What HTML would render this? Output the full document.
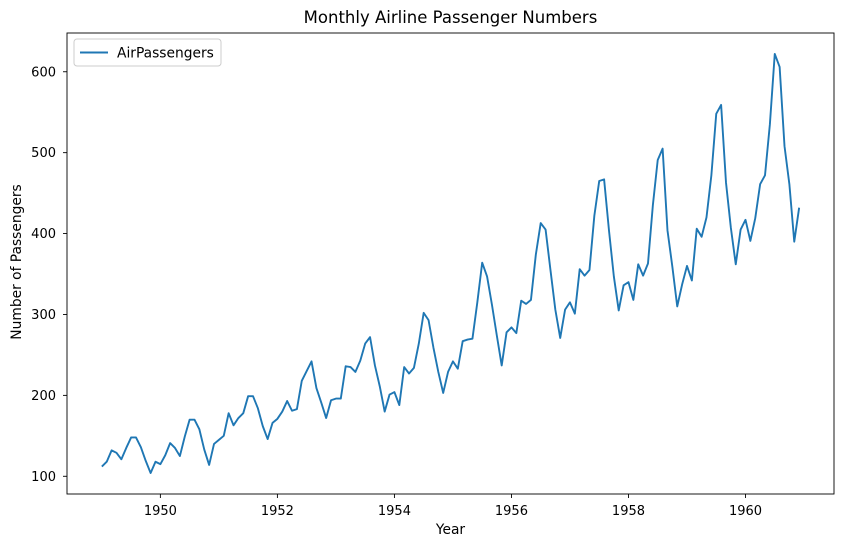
<!DOCTYPE html>
<html><head><meta charset="utf-8">
<style>
body{margin:0;background:#fff;}
svg text{font-family:"DejaVu Sans","Liberation Sans",sans-serif;fill:#000;}
</style></head>
<body>
<svg id="chart" width="850" height="547" xmlns="http://www.w3.org/2000/svg">
<rect width="850" height="547" fill="#fff"/>
<text x="450.5" y="23" font-size="16.5" text-anchor="middle">Monthly Airline Passenger Numbers</text>
<g id="axes"></g>
<text x="450.5" y="534" font-size="13.8" text-anchor="middle">Year</text>
<text transform="translate(21,262) rotate(-90)" font-size="13.8" text-anchor="middle">Number of Passengers</text>
<g>
<rect x="74" y="39" width="147" height="27" fill="#fff" stroke="#ccc" rx="3"/>
<line x1="80" y1="52.5" x2="108" y2="52.5" stroke="#1f77b4" stroke-width="2"/>
<text x="117" y="57.5" font-size="13.8">AirPassengers</text>
</g>
</svg>
<script>
const startYear = 1949;
const passengers = [
112,118,132,129,121,135,148,148,136,119,104,118,
115,126,141,135,125,149,170,170,158,133,114,140,
145,150,178,163,172,178,199,199,184,162,146,166,
171,180,193,181,183,218,230,242,209,191,172,194,
196,196,236,235,229,243,264,272,237,211,180,201,
204,188,235,227,234,264,302,293,259,229,203,229,
242,233,267,269,270,315,364,347,312,274,237,278,
284,277,317,313,318,374,413,405,355,306,271,306,
315,301,356,348,355,422,465,467,404,347,305,336,
340,318,362,348,363,435,491,505,404,359,310,337,
360,342,406,396,420,472,548,559,463,407,362,405,
417,391,419,461,472,535,622,606,508,461,390,432];
const xTicks = [1950,1952,1954,1956,1958,1960];
const yTicks = [100,200,300,400,500,600];

const L=67,R=834,T=33,B=494;
const ns="http://www.w3.org/2000/svg";
const times=passengers.map((v,i)=>startYear+i/12);
const tmin=Math.min(...times),tmax=Math.max(...times);
const vmin=Math.min(...passengers),vmax=Math.max(...passengers);
const x0=tmin-(tmax-tmin)*0.05,x1=tmax+(tmax-tmin)*0.05;
const y0=vmin-(vmax-vmin)*0.05,y1=vmax+(vmax-vmin)*0.05;
const X=t=>L+(t-x0)/(x1-x0)*(R-L);
const Y=v=>B-(v-y0)/(y1-y0)*(B-T);
const g=document.getElementById('axes');
function mk(tag,attrs){const e=document.createElementNS(ns,tag);for(const k in attrs)e.setAttribute(k,attrs[k]);g.appendChild(e);return e;}
const pts=passengers.map((v,i)=>X(times[i]).toFixed(2)+','+Y(v).toFixed(2)).join(' ');
const line=mk('polyline',{points:pts,fill:'none',stroke:'#1f77b4','stroke-width':1.9,'stroke-linejoin':'round'});


const frame=mk('rect',{x:L,y:T,width:R-L,height:B-T,fill:'none',stroke:'#000','stroke-width':0.9});


xTicks.forEach(t=>{
  const x=X(t);
  const tk=mk('line',{x1:x,x2:x,y1:B,y2:B+4,stroke:'#000','stroke-width':0.9});
  
  
  const tx=mk('text',{x:x,y:B+21,'font-size':13,'text-anchor':'middle'});
  tx.textContent=t;
  
  
});
yTicks.forEach(v=>{
  const y=Y(v);
  const tk=mk('line',{x1:L-4,x2:L,y1:y,y2:y,stroke:'#000','stroke-width':0.9});
  
  
  const tx=mk('text',{x:L-11,y:y+4.5,'font-size':13,'text-anchor':'end'});
  tx.textContent=v;
  
  
});
</script>
</body></html>
